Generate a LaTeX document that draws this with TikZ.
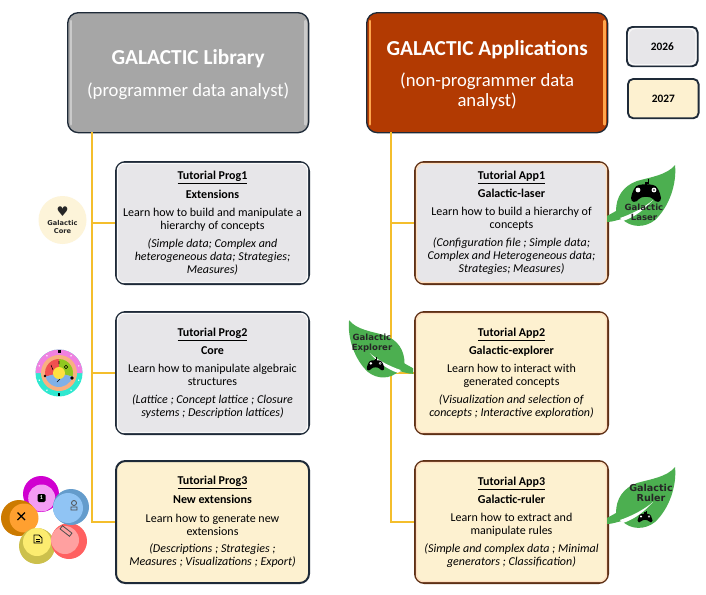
\documentclass[tikz,border=0pt]{standalone}
\usepackage{fontspec}
\setmainfont{Carlito}
\newfontfamily\iconfont{DejaVu Sans}
\definecolor{bordark}{HTML}{1E2A38}
\definecolor{boxgrey}{HTML}{E7E6E9}
\definecolor{boxcream}{HTML}{FDF1D0}
\definecolor{headgrey}{HTML}{A6A6A6}
\definecolor{headred}{HTML}{B23A02}
\definecolor{appborder}{HTML}{5E3015}
\definecolor{connline}{HTML}{F4BE2C}
\definecolor{leafgreen}{HTML}{4CAF50}
\definecolor{wcyan}{HTML}{30E8D0}
\definecolor{wpink}{HTML}{F080E0}
\definecolor{wpeach}{HTML}{F8B080}
\definecolor{wred}{HTML}{F05050}
\definecolor{wgreen}{HTML}{90C820}
\definecolor{wblue}{HTML}{80B0E8}
\definecolor{wyellow}{HTML}{FFE040}
\definecolor{pmag}{HTML}{D000D0}
\definecolor{pmagin}{HTML}{F49CF4}
\definecolor{pblue}{HTML}{649CCC}
\definecolor{pbluein}{HTML}{90C4F4}
\definecolor{porg}{HTML}{CC7A00}
\definecolor{porgin}{HTML}{FFA030}
\definecolor{pyel}{HTML}{CCC04C}
\definecolor{pyelin}{HTML}{FCEC70}
\definecolor{pred}{HTML}{FF6060}
\definecolor{predin}{HTML}{FFA0A0}
\tikzset{
  x=0.75pt,y=-0.75pt,
  conn/.style={draw=connline,line width=1.2pt},
  basebox/.style={rectangle,rounded corners=7pt,line width=1.5pt,minimum width=144.75pt,minimum height=91.5pt,align=center,inner sep=0pt,anchor=north west,font=\fontsize{9}{9.75}\selectfont},
  greybox/.style={basebox,draw=bordark,fill=boxgrey},
  creambox/.style={basebox,draw=bordark,fill=boxcream},
  greyapp/.style={basebox,draw=appborder,fill=boxgrey},
  creamapp/.style={basebox,draw=appborder,fill=boxcream},
  headbox/.style={rectangle,rounded corners=8pt,draw=bordark,line width=1pt,minimum width=180.75pt,minimum height=90pt,align=center,inner sep=0pt,anchor=north west,text=white},
  legendbox/.style={rectangle,rounded corners=4pt,draw=bordark,line width=1.4pt,minimum width=53pt,minimum height=29.5pt,anchor=north west,font=\fontsize{8.5}{10}\selectfont\bfseries},
  leaftext/.style={font=\iconfont\fontsize{6.4}{7.6}\selectfont\bfseries,align=center,inner sep=0pt,text=black!85},
}
\newcommand{\ttl}[1]{\underline{\textbf{#1}}}
\newcommand{\bevel}[2]{% node, colour
  \draw[#2,line width=1pt,rounded corners=5pt] ([shift={(2.5,2.5)}]#1.north west) rectangle ([shift={(-2.5,-2.5)}]#1.south east);}
\newcommand{\strips}[2]{% node, colour
  \draw[#2,line width=2pt,line cap=round] ([shift={(4,9)}]#1.north west) -- ([shift={(4,-9)}]#1.south west);
  \draw[#2,line width=2pt,line cap=round] ([shift={(-4,9)}]#1.north east) -- ([shift={(-4,-9)}]#1.south east);}
\newcommand{\leafshape}[4]{% stem x, stem y, xscale, yscale
  \begin{scope}[shift={(#1,#2)},xscale=#3,yscale=#4]
    \fill[leafgreen] (0,-3) .. controls (3,-5) and (6,-6) .. (9,-8)
      .. controls (9,-22) and (16,-33) .. (30,-38)
      .. controls (44,-42) and (60,-44) .. (68,-54)
      .. controls (70,-35) and (62,-12) .. (48,1)
      .. controls (38,9) and (24,9) .. (15,0)
      .. controls (10,1) and (5,3) .. (0,3) -- cycle;
    \fill[white] (13,-1) .. controls (25,-5) and (38,-12) .. (46,-19)
      .. controls (38,-10) and (28,-2) .. (16,2) -- cycle;
  \end{scope}}
\newcommand{\gamepad}[3]{% x,y,scale
  \begin{scope}[shift={(#1,#2)},scale=#3]
    \fill[black] (-7,-6) .. controls (-3,-7) and (3,-7) .. (7,-6)
      .. controls (11,-6) and (14,1) .. (15,7)
      .. controls (15,12) and (10,12) .. (7,8)
      .. controls (5,5) and (-5,5) .. (-7,8)
      .. controls (-10,12) and (-15,12) .. (-15,7)
      .. controls (-14,1) and (-11,-6) .. (-7,-6) -- cycle;
    \draw[black,line width=0.8pt] (0,-6) -- (0,-8) -- (2.5,-8) -- (2.5,-12);
    \fill[white] (-8,-1) circle (2.4) (8,-1) circle (2.4);
    \fill[black] (8,-1) circle (0.9);
  \end{scope}}
\begin{document}
\begin{tikzpicture}
\useasboundingbox (0,0) rectangle (706,594);
\fill[white] (0,0) rectangle (706,594);

% headers
\node[headbox,fill=headgrey] (lib) at (67,12) {\fontsize{16}{17}\selectfont\rule{0pt}{14.5pt}\textbf{GALACTIC Library}\\[10.25pt]\fontsize{14}{17}\selectfont(programmer data analyst)};
\node[headbox,fill=headred] (app) at (366,12) {\fontsize{16}{17}\selectfont\rule{0pt}{14.5pt}\textbf{GALACTIC Applications}\\[9.5pt]\fontsize{14}{16}\selectfont(non-programmer data\\[1.25pt]\fontsize{14}{16}\selectfont analyst)};
\strips{lib}{white!40!headgrey}
\strips{app}{orange!70!white}

% legend
\node[legendbox,fill=boxgrey] (y26) at (626,26) {2026};
\node[legendbox,fill=boxcream] (y27) at (627,78) {2027};
\bevel{y26}{white!70!boxgrey}

\coordinate (tl) at (91.7,132);
\coordinate (tr) at (391,132);

% tutorial boxes
\node[greybox] (p1) at (115,161) {\ttl{Tutorial Prog1}\\[3.5pt]\textbf{Extensions}\\[4pt]Learn how to build and manipulate a\\hierarchy of concepts\\[3.5pt]\textit{(Simple data; Complex and}\\\textit{heterogeneous data; Strategies;}\\\textit{Measures)}};
\node[greybox] (p2) at (115,311) {\ttl{Tutorial Prog2}\\[3.5pt]\textbf{Core}\\[4pt]Learn how to manipulate algebraic\\structures\\[3.5pt]\textit{(Lattice ; Concept lattice ; Closure}\\\textit{systems ; Description lattices)}};
\node[creambox] (p3) at (115,460) {\ttl{Tutorial Prog3}\\[3.5pt]\textbf{New extensions}\\[4pt]Learn how to generate new\\extensions\\[3.5pt]\textit{(Descriptions ; Strategies ;}\\\textit{Measures ; Visualizations ; Export)}};
\node[greyapp] (a1) at (414,161) {\ttl{Tutorial App1}\\[3.5pt]\textbf{Galactic-laser}\\[4pt]Learn how to build a hierarchy of\\concepts\\[3.5pt]\textit{(Configuration file ; Simple data;}\\\textit{Complex and Heterogeneous data;}\\\textit{Strategies; Measures)}};
\node[creamapp] (a2) at (414,311) {\ttl{Tutorial App2}\\[3.5pt]\textbf{Galactic-explorer}\\[4pt]Learn how to interact with\\generated concepts\\[3.5pt]\textit{(Visualization and selection of}\\\textit{concepts ; Interactive exploration)}};
\node[creamapp] (a3) at (414,460) {\ttl{Tutorial App3}\\[3.5pt]\textbf{Galactic-ruler}\\[4pt]Learn how to extract and\\manipulate rules\\[3.5pt]\textit{(Simple and complex data ; Minimal}\\\textit{generators ; Classification)}};
\bevel{p1}{white!70!boxgrey}
\bevel{p2}{white!70!boxgrey}
\bevel{a1}{orange!25!white}
\bevel{a2}{orange!25!white}
\bevel{a3}{orange!25!white}

\draw[conn] (tr) |- (a3.west);
\draw[conn] (tr |- a1.west) -- (a1.west);
\draw[conn] (tr |- a2.west) -- (a2.west);
\draw[conn] (tl) |- (p3.west);
\draw[conn] (tl |- p1.west) -- (p1.west);
\draw[conn] (tl |- p2.west) -- (p2.west);

% Galactic Core badge
\node[circle,fill=boxcream!80,minimum size=36pt,inner sep=0pt,font=\iconfont\fontsize{5}{6.2}\selectfont\bfseries,align=center,text=black!85] (core) at (62.5,220) {\fontsize{10}{9}\selectfont ♥\\[0.5pt]Galactic\\Core};

% wheel
\begin{scope}[shift={(59,373)}]
  \fill[wcyan] (0,0) circle (23.5);
  \fill[wpink] (23.5,0) arc[start angle=0,end angle=-180,radius=23.5] -- cycle;
  \fill[wpeach] (0,0) circle (18);
  \fill[wred] (0,0) -- (165:14) arc[start angle=165,end angle=270,radius=14] -- cycle;
  \fill[wgreen] (0,0) -- (270:14) arc[start angle=270,end angle=375,radius=14] -- cycle;
  \fill[wblue] (0,0) -- (15:14) arc[start angle=15,end angle=165,radius=14] -- cycle;
  \fill[wyellow] (0,0) circle (6);
  \foreach \a in {200,235,305,340,20,55,125,160}{\fill[white] (\a:21) circle (0.8);}
  \fill[black] (-1.5,-23) rectangle (1.5,-20);
  \fill[black] (-1.2,19.5) rectangle (1.2,22.5);
  \fill[black] (13,5) circle (1.8) (-14,3) circle (1.3);
  \draw[black,line width=0.4pt] (-8,-8) -- (-6,-3) (7,-6) circle (1.8) (-2,9) -- (1,6) (0,-12) -- (0,-9);
\end{scope}

% petals
\fill[pmag] (41,494) circle (18);
\fill[pmagin] (41.7,498) circle (13.5);
\fill[black,rounded corners=1pt] (37.5,494) rectangle (45.5,502);
\node[inner sep=0pt,text=white,font=\fontsize{4.5}{5}\selectfont\bfseries] (pbadge) at (41.5,498) {1};
\fill[porg] (19,518) circle (18);
\fill[porgin] (24,518) circle (14.5);
\draw[black,line width=0.9pt] (17.5,512.5) -- (25,520) (25,512.5) -- (17.5,520);
\fill[pyel] (37,546) circle (18);
\fill[pyelin] (37,542) circle (14);
\draw[black,line width=0.7pt,fill=pyelin] (34,535) -- (39,535) -- (42,538) -- (42,543) -- (34,543) -- cycle;
\draw[black,line width=0.4pt] (36,539) -- (40,539) (36,541) -- (40,541);
\fill[pred] (69,541) circle (18);
\fill[predin] (65,540) circle (14);
\draw[black!70,line width=0.6pt,rotate around={-38:(66,531)}] (60,529) rectangle (72,533);
\fill[pblue] (71,507) circle (18);
\fill[pbluein] (68,508) circle (15);
\draw[black!70,line width=0.6pt] (74,503) circle (2.5) (71,507) rectangle (77,510);

% leaves
\leafshape{607}{219}{1}{1}
\gamepad{646}{191}{1}
\node[leaftext] (l1) at (644,212) {Galactic\\Laser};
\leafshape{413}{371}{-0.94}{0.94}
\gamepad{375.5}{364}{0.58}
\node[leaftext] (l2) at (372,343) {Galactic\\Explorer};
\leafshape{607}{521}{1}{1}
\gamepad{645}{517}{0.5}
\node[leaftext,font=\iconfont\fontsize{7.2}{8}\selectfont\bfseries] (l3) at (651,493) {Galactic\\Ruler};
\end{tikzpicture}
\end{document}
